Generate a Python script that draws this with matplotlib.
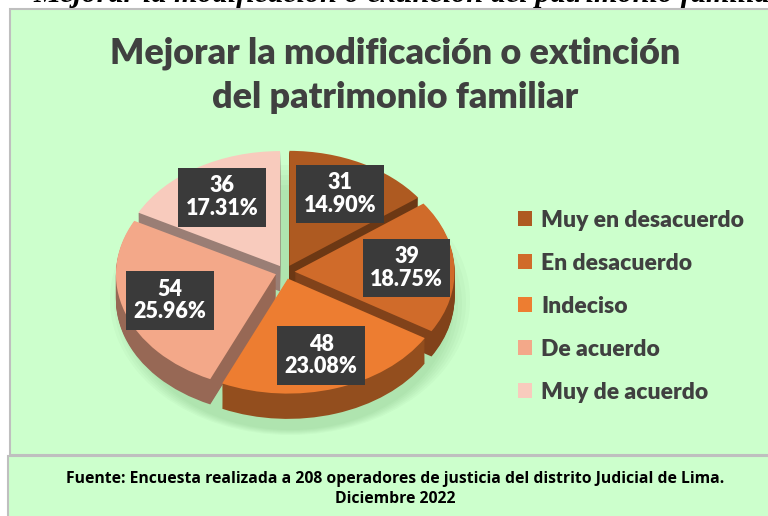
import matplotlib
matplotlib.use("Agg")
import matplotlib.pyplot as plt
from matplotlib.patches import Rectangle, Ellipse
import matplotlib.colors as mcolors
import numpy as np

# data
sTitle = "Mejorar la modificación o extinción\ndel patrimonio familiar"
sCaption = "Mejorar la modificación o extinción del patrimonio familiar"
sFuente = ("Fuente: Encuesta realizada a 208 operadores de justicia del distrito Judicial de Lima.\n"
           "Diciembre 2022")
categories = ["Muy en desacuerdo", "En desacuerdo", "Indeciso", "De acuerdo", "Muy de acuerdo"]
counts = [31, 39, 48, 54, 36]
colors = ["#AE5A21", "#D06B2A", "#ED7D31", "#F3A889", "#F8CBBD"]

total = sum(counts)
bg = "#CCFFCC"
txt = "#404040"
FONT = ["Lato", "DejaVu Sans"]

fig = plt.figure(figsize=(7.68, 5.16), dpi=100)
fig.patch.set_facecolor("white")

# background frame axes in pixel coordinates
axb = fig.add_axes([0, 0, 1, 1])
axb.set_xlim(0, 768)
axb.set_ylim(516, 0)
axb.axis("off")
axb.add_patch(Rectangle((10, 9), 770, 446, fc=bg, ec="#BFBFBF", lw=1.5))
axb.add_patch(Rectangle((8, 456), 770, 70, fc=bg, ec="#BFBFBF", lw=1.5))
axb.text(33, 1.5, sCaption, fontsize=21.8, fontstyle="italic", fontweight="bold",
         family=["Liberation Serif", "DejaVu Serif"], color="black", va="baseline", ha="left")
axb.text(395, 108, sTitle, fontsize=25.8, fontweight="heavy", family=FONT, color=txt,
         ha="center", va="baseline", linespacing=1.42)
axb.text(395, 489, sFuente, fontsize=11.3, fontweight="bold", family=["Open Sans", "DejaVu Sans"],
         color="black", ha="center", va="center", linespacing=1.3)

# soft shadow under the pie
for k in range(6):
    axb.add_patch(Ellipse((290, 300 + 2 * k), 360 - 8 * k, 270 - 6 * k,
                          fc="#4E8A4E", ec="none", alpha=0.04, zorder=1))

# pie axes: 1 unit = 160 px in x, 115 px in y
ax = fig.add_axes([77 / 768, 71.5 / 516, 416 / 768, 322 / 516])
ax.set_facecolor("none")
explode = [0.06] * len(counts)
depth = 0.22
nLayers = 24
side = [tuple(np.array(mcolors.to_rgb(c)) * 0.62) for c in colors]
for d in np.linspace(depth, 0.01, nLayers):
    ax.pie(counts, explode=explode, colors=side, startangle=90, counterclock=False,
           center=(0, -d), wedgeprops=dict(linewidth=0))


def fmt(p):
    return f"{round(p * total / 100)}\n{p:.2f}%"


wedges, texts, autotexts = ax.pie(
    counts, explode=explode, colors=colors, startangle=90, counterclock=False,
    autopct=fmt, pctdistance=0.7, wedgeprops=dict(linewidth=0))
for t in autotexts:
    t.set_color("white")
    t.set_fontweight("heavy")
    t.set_fontsize(15.5)
    t.set_family(FONT)
    t.set_linespacing(1.1)
    t.set_bbox(dict(boxstyle="square,pad=0.35", fc="#3A3A3A", ec="none"))
ax.set_aspect("auto")
ax.set_xlim(-1.3, 1.3)
ax.set_ylim(-1.5, 1.3)
ax.axis("off")

leg = fig.legend(wedges, categories, loc="upper left", bbox_to_anchor=(497 / 768, 1 - 189 / 516),
                 frameon=False, handlelength=0.62, handleheight=0.62, handletextpad=0.4,
                 labelspacing=0.96, prop=dict(family=FONT, weight="heavy", size=16.5))
for t in leg.get_texts():
    t.set_color(txt)

fig.savefig("out.png", dpi=100, facecolor=fig.get_facecolor())
